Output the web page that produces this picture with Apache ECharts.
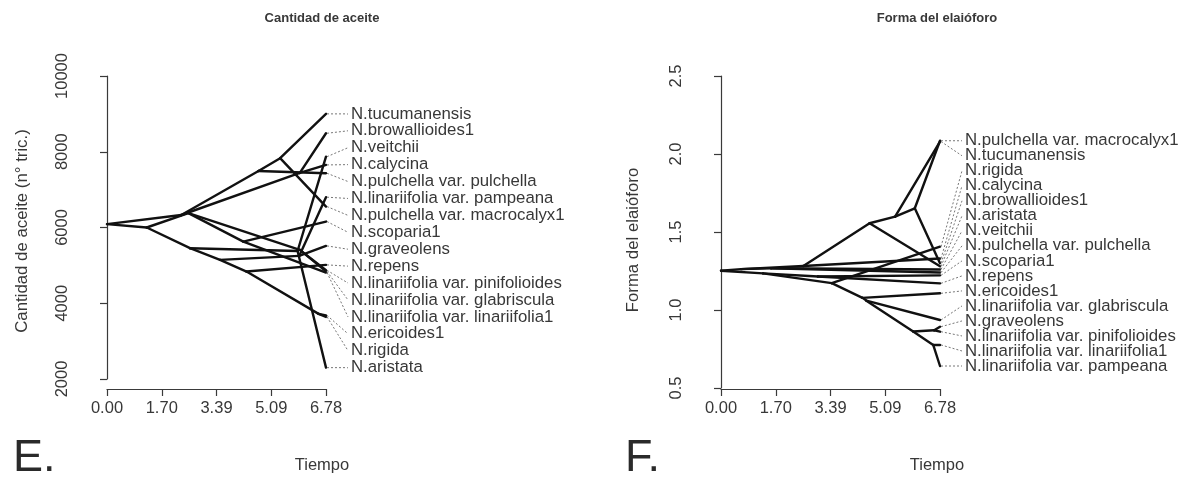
<!DOCTYPE html>
<html><head><meta charset="utf-8">
<script src="https://cdn.jsdelivr.net/npm/echarts@6/dist/echarts.min.js"></script>
<style>html,body{margin:0;padding:0;background:#fff}#c{width:1188px;height:479px}</style>
</head><body><div id="c"></div>
<script>
// ---------- shared ----------
const timeTicks = ['0.00', '1.70', '3.39', '5.09', '6.78'];
const treeHeight = 6.78;

// ---------- panel E : Cantidad de aceite ----------
const tipNamesE = ['N.tucumanensis', 'N.browallioides1', 'N.veitchii', 'N.calycina',
  'N.pulchella var. pulchella', 'N.linariifolia var. pampeana', 'N.pulchella var. macrocalyx1',
  'N.scoparia1', 'N.graveolens', 'N.repens', 'N.linariifolia var. pinifolioides',
  'N.linariifolia var. glabriscula', 'N.linariifolia var. linariifolia1', 'N.ericoides1',
  'N.rigida', 'N.aristata'];
const tipValuesE = [9000, 8488, 7870, 7652, 7432, 6800, 6553, 6157, 5514, 5013, 4870, 4840, 4810, 3680, 3640, 2300];
const tipParentE = [4, 5, 7, 5, 3, 9, 4, 13, 9, 10, 14, 14, 13, 11, 11, 7];
const nodeTimeE = [0, 1.23, 2.3, 4.69, 5.36, 5.97, 2.57, 5.9, 3.5, 5.95, 4.32, 6.55, 2.52, 4.22, 5.97];
const nodeValueE = [6090, 6000, 6330, 7490, 7830, 7440, 5454, 5380, 5145, 5250, 4837, 3720, 6380, 5628, 5409];
const nodeParentE = [-1, 0, 0, 2, 3, 2, 1, 6, 6, 8, 8, 10, 1, 12, 12];
const yTicksE = [2000, 10000, 2000]; // min, max, step

// ---------- panel F : Forma del elaióforo ----------
const tipNamesF = ['N.pulchella var. macrocalyx1', 'N.tucumanensis', 'N.rigida', 'N.calycina',
  'N.browallioides1', 'N.aristata', 'N.veitchii', 'N.pulchella var. pulchella', 'N.scoparia1',
  'N.repens', 'N.ericoides1', 'N.linariifolia var. glabriscula', 'N.graveolens',
  'N.linariifolia var. pinifolioides', 'N.linariifolia var. linariifolia1', 'N.linariifolia var. pampeana'];
const tipValuesF = [2.085, 2.08, 1.406, 1.33, 1.30, 1.28, 1.26, 1.24, 1.222, 1.171, 1.107, 0.936, 0.893, 0.861, 0.776, 0.641];
const tipParentF = [6, 5, 8, 3, 6, 4, 7, 7, 9, 9, 10, 11, 13, 13, 14, 14];
const nodeTimeF = [0, 0.62, 1.3, 2.55, 4.6, 5.39, 6.0, 1.55, 3.43, 3.0, 4.38, 4.5, 5.95, 6.6, 6.57];
const nodeValueF = [1.252, 1.262, 1.235, 1.282, 1.556, 1.598, 1.652, 1.268, 1.172, 1.215, 1.078, 1.06, 0.862, 0.87, 0.776];
const nodeParentF = [-1, 0, 0, 1, 3, 4, 5, 1, 2, 2, 8, 10, 11, 12, 12];
const yTicksF = [0.5, 2.5, 0.5];

// ---------- helpers ----------
const FONT = '"Liberation Sans", Arimo, Arial, sans-serif';
const INK = '#111';
const AX = '#3a3a3a';
const TXT = '#383838';

function buildEdges(nt, nv, np, tv, tp) {
  const e = [];
  np.forEach((p, i) => { if (p >= 0) e.push([nt[p], nv[p], nt[i], nv[i]]); });
  tp.forEach((p, i) => e.push([nt[p], nv[p], treeHeight, tv[i]]));
  return e;
}
function buildLabels(tv) {
  const n = tv.length, hi = Math.max.apply(null, tv), lo = Math.min.apply(null, tv);
  return tv.map((v, i) => [treeHeight, v, hi - (hi - lo) * i / (n - 1), i]);
}
function edgeRender(params, api) {
  const a = api.coord([api.value(0), api.value(1)]);
  const b = api.coord([api.value(2), api.value(3)]);
  return { type: 'line', shape: { x1: a[0], y1: a[1], x2: b[0], y2: b[1] },
    style: { stroke: INK, lineWidth: 2.4, lineCap: 'round' } };
}
function labelRender(names) {
  return function (params, api) {
    const tip = api.coord([api.value(0), api.value(1)]);
    const lab = api.coord([api.value(0), api.value(2)]);
    return { type: 'group', children: [
      { type: 'line', shape: { x1: tip[0] + 1, y1: tip[1], x2: tip[0] + 22, y2: lab[1] },
        style: { stroke: '#777', lineWidth: 1, lineDash: [2, 2] } },
      { type: 'text', style: { text: names[api.value(3)], x: tip[0] + 25, y: lab[1],
        fill: TXT, font: '16.8px ' + FONT, align: 'left', verticalAlign: 'middle',
        textAlign: 'left', textVerticalAlign: 'middle' } }
    ] };
  };
}
function xAxisCfg(gi, off) {
  return { gridIndex: gi, type: 'value', min: 0, max: treeHeight, interval: treeHeight / 4, offset: off,
    axisLine: { show: true, lineStyle: { color: AX, width: 1.2 } },
    axisTick: { show: true, length: 7, lineStyle: { color: AX, width: 1.2 } },
    splitLine: { show: false },
    axisLabel: { color: TXT, fontSize: 16.5, fontFamily: FONT, margin: 11,
      formatter: v => timeTicks[Math.round(v / (treeHeight / 4))] } };
}
function yAxisCfg(gi, t, fmt) {
  return { gridIndex: gi, type: 'value', min: t[0], max: t[1], interval: t[2], offset: 19,
    axisLine: { show: true, lineStyle: { color: AX, width: 1.2 } },
    axisTick: { show: true, length: 7, lineStyle: { color: AX, width: 1.2 } },
    splitLine: { show: false },
    axisLabel: { color: TXT, fontSize: 16.5, fontFamily: FONT, rotate: 90, margin: 17, formatter: fmt } };
}
function txt(x, y, s, size, weight, rot) {
  return { type: 'text', x: x, y: y, rotation: rot || 0,
    style: { text: s, fill: TXT, font: (weight || 'normal') + ' ' + size + 'px ' + FONT,
      align: 'center', verticalAlign: 'middle', textAlign: 'center', textVerticalAlign: 'middle' } };
}

const chart = echarts.init(document.getElementById('c'), null, { renderer: 'canvas' });
chart.setOption({
  animation: false,
  backgroundColor: '#fff',
  grid: [
    { left: 107, top: 76, width: 219, height: 303 },
    { left: 721, top: 76, width: 219, height: 312 }
  ],
  xAxis: [xAxisCfg(0, 10), xAxisCfg(1, 1)],
  yAxis: [yAxisCfg(0, yTicksE, v => String(v)), yAxisCfg(1, yTicksF, v => v.toFixed(1))],
  series: [
    { type: 'custom', xAxisIndex: 0, yAxisIndex: 0, clip: false, renderItem: edgeRender,
      encode: { x: [0, 2], y: [1, 3] },
      data: buildEdges(nodeTimeE, nodeValueE, nodeParentE, tipValuesE, tipParentE) },
    { type: 'custom', xAxisIndex: 0, yAxisIndex: 0, clip: false, renderItem: labelRender(tipNamesE),
      encode: { x: 0, y: [1, 2] }, data: buildLabels(tipValuesE) },
    { type: 'custom', xAxisIndex: 1, yAxisIndex: 1, clip: false, renderItem: edgeRender,
      encode: { x: [0, 2], y: [1, 3] },
      data: buildEdges(nodeTimeF, nodeValueF, nodeParentF, tipValuesF, tipParentF) },
    { type: 'custom', xAxisIndex: 1, yAxisIndex: 1, clip: false, renderItem: labelRender(tipNamesF),
      encode: { x: 0, y: [1, 2] }, data: buildLabels(tipValuesF) }
  ],
  graphic: [
    txt(322, 18, 'Cantidad de aceite', 13, 'bold'),
    txt(937, 18, 'Forma del elaióforo', 13, 'bold'),
    txt(322, 465, 'Tiempo', 16.5),
    txt(937, 465, 'Tiempo', 16.5),
    txt(22, 231, 'Cantidad de aceite (n° tric.)', 16.8, 'normal', Math.PI / 2),
    txt(633, 240, 'Forma del elaióforo', 16.8, 'normal', Math.PI / 2),
    { type: 'text', x: 13, y: 481, style: { text: 'E.', fill: '#2a2a2a', font: '45px ' + FONT,
      align: 'left', verticalAlign: 'bottom', textAlign: 'left', textVerticalAlign: 'bottom' } },
    { type: 'text', x: 625, y: 481, style: { text: 'F.', fill: '#2a2a2a', font: '45px ' + FONT,
      align: 'left', verticalAlign: 'bottom', textAlign: 'left', textVerticalAlign: 'bottom' } }
  ]
});
</script></body></html>
